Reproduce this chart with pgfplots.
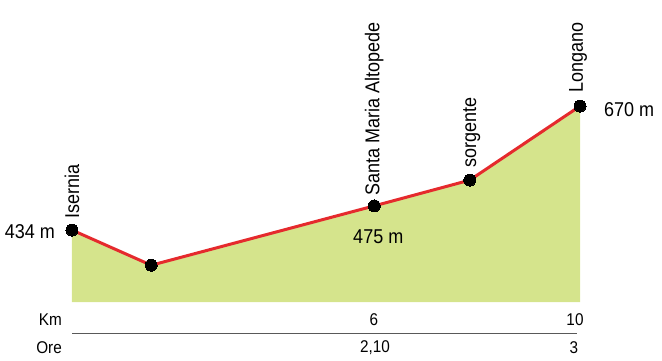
\documentclass[border=0pt]{standalone}
\usepackage{fontspec}
\setmainfont{Liberation Sans}[FakeStretch=0.9]
\usepackage{pgfplots}
\pgfplotsset{compat=1.18}
\definecolor{areagreen}{HTML}{D5E48C}
\definecolor{routered}{HTML}{E52A2D}
\begin{document}
\begin{tikzpicture}[font=\fontsize{20}{23}\selectfont]
\useasboundingbox (0,0) rectangle (662pt,360pt);
\begin{axis}[
  at={(72pt,58pt)}, anchor=south west,
  scale only axis, width=508pt, height=302pt,
  xmin=0, xmax=10, ymin=297, ymax=872,
  axis lines=none, clip=false,
]
\addplot[fill=areagreen, draw=none] coordinates {(0,434) (1.56,367) (5.95,480) (7.83,529) (10,670)} \closedcycle;
\addplot[routered, line width=3pt, mark=*, mark size=6pt,
  mark options={fill=black, draw=black, line width=0pt}]
  coordinates {(0,434) (1.56,367) (5.95,480) (7.83,529) (10,670)};
\node[rotate=90, anchor=west, inner sep=0pt] at ([yshift=11pt]axis cs:0,434) {Isernia};
\node[rotate=90, anchor=west, inner sep=0pt] at ([yshift=10pt]axis cs:5.95,480) {Santa Maria Altopede};
\node[rotate=90, anchor=west, inner sep=0pt] at ([xshift=2pt,yshift=12pt]axis cs:7.83,529) {sorgente};
\node[rotate=90, anchor=west, inner sep=0pt] at ([xshift=-2pt,yshift=13pt]axis cs:10,670) {Longano};
\node[anchor=east, inner sep=0pt] at ([xshift=-17pt,yshift=-2pt]axis cs:0,434) {434 m};
\node[anchor=center, inner sep=0pt] at ([xshift=4pt,yshift=-31pt]axis cs:5.95,480) {475 m};
\node[anchor=west, inner sep=0pt] at ([xshift=24pt,yshift=-4pt]axis cs:10,670) {670 m};
\end{axis}
\begin{scope}[font=\fontsize{17}{20}\selectfont]
\node[anchor=east, inner sep=0pt] at (62pt,40pt) {Km};
\node[anchor=east, inner sep=0pt] at (62pt,12pt) {Ore};
\node[inner sep=0pt] at (374pt,40pt) {6};
\node[inner sep=0pt] at (575pt,40pt) {10};
\node[inner sep=0pt] at (375pt,12pt) {2,10};
\node[inner sep=0pt] at (574pt,12pt) {3};
\draw[gray!70!black, line width=1pt] (72pt,27pt) -- (577pt,27pt);
\end{scope}
\end{tikzpicture}
\end{document}
